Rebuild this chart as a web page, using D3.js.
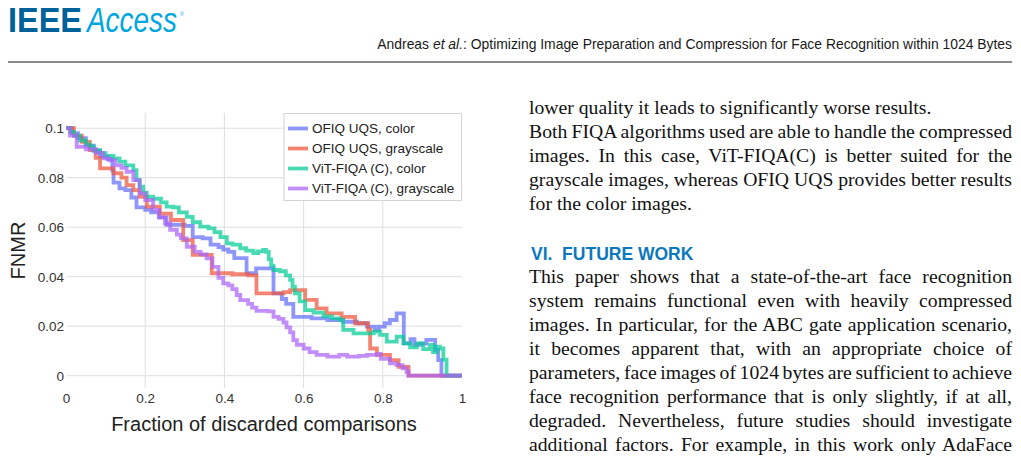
<!DOCTYPE html>
<html><head><meta charset="utf-8">
<script src="https://cdn.jsdelivr.net/npm/d3@7"></script>
<style>
html,body{margin:0;padding:0;background:#fff;}
svg{display:block;}
</style></head>
<body>
<svg id="page" width="1021" height="459"></svg>
<script>
// ---------------- data ----------------
const seriesNames = ["OFIQ UQS, color", "OFIQ UQS, grayscale", "ViT-FIQA (C), color", "ViT-FIQA (C), grayscale"];
const seriesColors = ["#636efa", "#ef553b", "#00cc96", "#ab63fa"];
const xTicks = [0, 0.2, 0.4, 0.6, 0.8, 1];
const yTicks = [0, 0.02, 0.04, 0.06, 0.08, 0.1];
const xTitle = "Fraction of discarded comparisons";
const yTitle = "FNMR";

const ofiqColor = [[0,.1],[.015,.098],[.03,.096],[.05,.093],[.07,.091],[.086,.0885],[.105,.0875],[.117,.083],[.12,.078],[.135,.0757],[.15,.075],[.165,.072],[.178,.068],[.20,.067],[.215,.066],[.235,.064],[.254,.061],[.30,.0605],[.32,.056],[.345,.0555],[.365,.053],[.385,.052],[.397,.051],[.41,.050],[.425,.0475],[.456,.0414],[.48,.0434],[.524,.0333],[.545,.031],[.556,.029],[.574,.0238],[.62,.0232],[.66,.0225],[.70,.0218],[.735,.0212],[.76,.0198],[.78,.0185],[.79,.0198],[.805,.0212],[.818,.0225],[.835,.0252],[.853,.0131],[.87,.0148],[.88,.0125],[.895,.013],[.91,.0145],[.932,.0104],[.94,.0063],[.948,0],[1,0]];
const ofiqGray = [[0,.1],[.02,.097],[.04,.0945],[.06,.0912],[.075,.088],[.086,.0838],[.12,.0818],[.14,.080],[.153,.077],[.17,.075],[.186,.0723],[.204,.0683],[.237,.0655],[.265,.0629],[.296,.0548],[.32,.0488],[.368,.0414],[.42,.041],[.46,.0405],[.481,.0333],[.55,.0338],[.566,.0346],[.604,.0306],[.633,.0272],[.658,.0252],[.696,.0238],[.73,.0212],[.763,.0185],[.768,.011],[.785,.0084],[.818,.0063],[.84,.0036],[.865,0],[1,0]];
const vitColor = [[0,.1],[.01,.0985],[.02,.097],[.035,.095],[.05,.0935],[.06,.0925],[.07,.091],[.086,.0899],[.1,.0888],[.12,.0878],[.135,.0865],[.15,.085],[.17,.0831],[.178,.079],[.186,.0764],[.195,.074],[.204,.0723],[.22,.0715],[.24,.070],[.254,.0683],[.27,.068],[.285,.066],[.305,.0642],[.32,.062],[.339,.0602],[.36,.0595],[.375,.058],[.39,.056],[.406,.0535],[.42,.053],[.44,.0515],[.455,.0505],[.473,.0495],[.485,.0502],[.498,.0508],[.505,.050],[.512,.047],[.518,.0445],[.524,.0427],[.54,.0422],[.555,.0405],[.566,.0387],[.572,.036],[.578,.0333],[.59,.030],[.604,.0265],[.625,.0255],[.65,.024],[.672,.0232],[.692,.0225],[.70,.0185],[.726,.0171],[.777,.0178],[.793,.0165],[.81,.0138],[.835,.0158],[.852,.0131],[.869,.0115],[.886,.0131],[.902,.0107],[.919,.0124],[.927,.0095],[.936,.0117],[.944,.011],[.953,.0065],[.961,0],[1,0]];
const vitGray = [[0,.1],[.01,.097],[.027,.0925],[.05,.0915],[.075,.090],[.094,.0878],[.11,.087],[.125,.085],[.14,.084],[.153,.0824],[.17,.079],[.186,.0737],[.2,.071],[.22,.067],[.235,.064],[.25,.0615],[.263,.0589],[.28,.057],[.29,.0555],[.305,.0521],[.325,.050],[.34,.049],[.355,.0474],[.37,.044],[.385,.0395],[.397,.0373],[.41,.0365],[.42,.035],[.431,.0326],[.44,.0305],[.46,.029],[.47,.0275],[.481,.0262],[.51,.026],[.524,.0238],[.537,.023],[.549,.0215],[.557,.0195],[.566,.0175],[.574,.0144],[.583,.0125],[.6,.011],[.615,.0095],[.633,.0084],[.66,.0077],[.69,.0084],[.71,.0077],[.74,.008],[.76,.0084],[.785,.0088],[.795,.0068],[.818,.005],[.835,.0043],[.85,.003],[.86,.0015],[.865,0],[1,0]];
const seriesData = [ofiqColor, ofiqGray, vitColor, vitGray];

const headerText = ["Andreas ", "et al.", ": Optimizing Image Preparation and Compression for Face Recognition within 1024 Bytes"];
const para1 = ["lower quality it leads to significantly worse results.",
  "Both FIQA algorithms used are able to handle the compressed",
  "images. In this case, ViT-FIQA(C) is better suited for the",
  "grayscale images, whereas OFIQ UQS provides better results",
  "for the color images."];
const para1Justify = [false, true, true, true, false];
const heading = "VI.\u00a0\u00a0FUTURE WORK";
const para2 = ["This paper shows that a state-of-the-art face recognition",
  "system remains functional even with heavily compressed",
  "images. In particular, for the ABC gate application scenario,",
  "it becomes apparent that, with an appropriate choice of",
  "parameters, face images of 1024 bytes are sufficient to achieve",
  "face recognition performance that is only slightly, if at all,",
  "degraded. Nevertheless, future studies should investigate",
  "additional factors. For example, in this work only AdaFace"];

// ---------------- drawing ----------------
const svg = d3.select("#page");
const SANS = "'Liberation Sans', Arial, Helvetica, sans-serif";
const SERIF = "'Liberation Serif', 'Times New Roman', serif";

// Header logo
const logo = svg.append("text").attr("x", 8).attr("y", 32).attr("font-family", SANS).attr("font-size", 35);
logo.append("tspan").attr("font-weight", "bold").attr("fill", "#00629b")
  .attr("textLength", 74).attr("lengthAdjust", "spacingAndGlyphs").text("IEEE");
logo.append("tspan").attr("x", 87).attr("font-style", "italic").attr("fill", "#00a6df")
  .attr("textLength", 90).attr("lengthAdjust", "spacingAndGlyphs").text("Access");
logo.append("tspan").attr("x", 180).attr("y", 16).attr("font-size", 5).attr("fill", "#00a6df").text("®");

const ht = svg.append("text").attr("x", 1012).attr("y", 49).attr("text-anchor", "end")
  .attr("font-family", SANS).attr("font-size", 13.9).attr("fill", "#1a1a1a");
ht.append("tspan").text(headerText[0]);
ht.append("tspan").attr("font-style", "italic").text(headerText[1]);
ht.append("tspan").text(headerText[2]);
svg.append("line").attr("x1", 8).attr("x2", 1012).attr("y1", 62).attr("y2", 62).attr("stroke", "#666").attr("stroke-width", 1.5);

// Chart
const plot = {left: 66, right: 462, top: 113, bottom: 388};
const x = d3.scaleLinear().domain([0, 1]).range([66, 462]);
const y = d3.scaleLinear().domain([0, 0.1]).range([375.7, 128.2]);
const fmt = d3.format("~g");

const grid = svg.append("g");
grid.selectAll("line.h").data(yTicks).join("line").attr("class", "h")
  .attr("x1", plot.left + 1).attr("x2", plot.right).attr("y1", d => y(d)).attr("y2", d => y(d))
  .attr("stroke", "#dedede").attr("stroke-width", 1);
grid.selectAll("line.v").data(xTicks.filter(d => d > 0 && d < 1)).join("line").attr("class", "v")
  .attr("x1", d => x(d)).attr("x2", d => x(d)).attr("y1", plot.top).attr("y2", plot.bottom)
  .attr("stroke", "#dedede").attr("stroke-width", 1);

const xAxis = svg.append("g").attr("transform", `translate(0,${plot.bottom})`)
  .call(d3.axisBottom(x).tickValues(xTicks).tickSize(0).tickFormat(fmt));
xAxis.select(".domain").remove();
xAxis.selectAll("text").attr("y", 15).attr("dy", 0).attr("font-family", SANS).attr("font-size", 13.5).attr("fill", "#333");

const yAxis = svg.append("g").attr("transform", `translate(${plot.left},0)`)
  .call(d3.axisLeft(y).tickValues(yTicks).tickSize(0).tickPadding(2).tickFormat(fmt));
yAxis.select(".domain").remove();
yAxis.selectAll("text").attr("dy", "0.33em").attr("font-family", SANS).attr("font-size", 13.5).attr("fill", "#333");

svg.append("text").attr("x", (plot.left + plot.right) / 2).attr("y", 431).attr("text-anchor", "middle")
  .attr("font-family", SANS).attr("font-size", 20).attr("fill", "#222").text(xTitle);
svg.append("text").attr("transform", `translate(25,${(plot.top + plot.bottom) / 2}) rotate(-90)`).attr("text-anchor", "middle")
  .attr("font-family", SANS).attr("font-size", 20).attr("fill", "#222").text(yTitle);

const line = d3.line().x(d => x(d[0])).y(d => y(d[1])).curve(d3.curveStepAfter);
svg.append("g").selectAll("path").data(seriesData).join("path")
  .attr("d", line).attr("fill", "none")
  .attr("stroke", (d, i) => seriesColors[i]).attr("stroke-opacity", 0.72)
  .attr("stroke-width", 3.8).attr("stroke-linejoin", "miter");

// Legend
const lg = svg.append("g").attr("transform", "translate(284,113.5)");
lg.append("rect").attr("x", 0).attr("y", 0).attr("width", 177.5).attr("height", 87)
  .attr("fill", "#fff").attr("stroke", "#d4d4d4").attr("stroke-width", 1);
const items = lg.selectAll("g.item").data(seriesNames).join("g").attr("class", "item")
  .attr("transform", (d, i) => `translate(0,${15 + i * 20})`);
items.append("line").attr("x1", 4).attr("x2", 24).attr("y1", 0).attr("y2", 0)
  .attr("stroke", (d, i) => seriesColors[i]).attr("stroke-opacity", 0.72).attr("stroke-width", 3.8);
items.append("text").attr("x", 28).attr("y", 0).attr("dy", "0.35em").attr("font-family", SANS)
  .attr("font-size", 13.5).attr("fill", "#222").text(d => d);

// Body text
const colLeft = 529, colRight = 1012, fs = 19.7;
function textLines(lines, justify, y0) {
  lines.forEach((t, i) => {
    const el = svg.append("text").attr("x", colLeft).attr("y", y0 + i * 24)
      .attr("font-family", SERIF).attr("font-size", fs).attr("fill", "#111").text(t);
    if (justify[i]) {
      const w = el.node().getComputedTextLength();
      const n = (t.match(/ /g) || []).length;
      if (n > 0) el.attr("word-spacing", (colRight - colLeft - w) / n);
    }
  });
}
textLines(para1, para1Justify, 114);
svg.append("text").attr("x", 531).attr("y", 260).attr("font-family", SANS).attr("font-weight", "bold")
  .attr("font-size", 17.5).attr("fill", "#0b78bd").text(heading);
textLines(para2, para2.map(() => true), 283);
</script>
</body></html>
